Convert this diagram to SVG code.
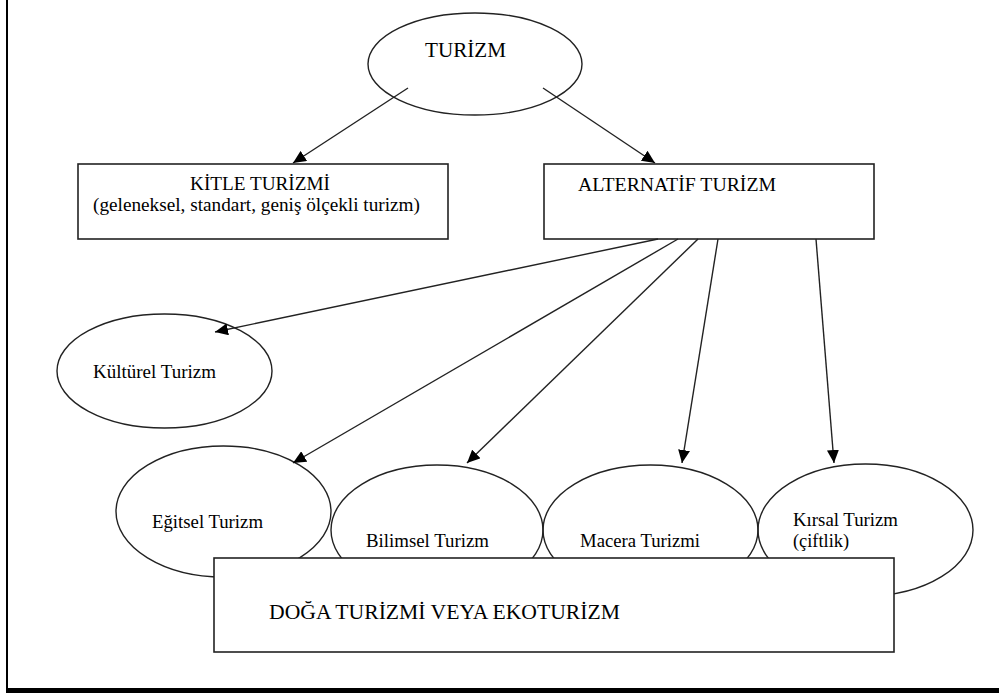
<svg xmlns="http://www.w3.org/2000/svg" width="999" height="693" viewBox="0 0 999 693">
<style>
.sh{fill:none;stroke:#222;stroke-width:1.4}
.bx{fill:#fff;stroke:#222;stroke-width:1.6}
.t{font-family:"Liberation Serif","Times New Roman",serif;fill:#000}
.c{stroke:#222;stroke-width:1.4;fill:none;marker-end:url(#ah)}
</style>
<defs>
<marker id="ah" markerUnits="userSpaceOnUse" markerWidth="14" markerHeight="12" refX="13" refY="6" orient="auto">
<path d="M0,0 L13,6 L0,12 Z" fill="#000"/>
</marker>
</defs>
<rect x="0" y="0" width="999" height="693" fill="#fff"/>
<line x1="7" y1="0" x2="7" y2="690" stroke="#000" stroke-width="2"/>
<rect x="6" y="688" width="993" height="5" fill="#000"/>

<g id="turizm">
<ellipse class="sh" cx="475" cy="64" rx="107" ry="51"/>
<text class="t" x="425" y="57" font-size="21" textLength="81" lengthAdjust="spacingAndGlyphs">TURİZM</text>
</g>
<g id="kitle">
<rect class="bx" x="78" y="164" width="370" height="75"/>
<text class="t" x="190" y="190" font-size="19.3" textLength="140" lengthAdjust="spacingAndGlyphs">KİTLE TURİZMİ</text>
<text class="t" x="93" y="211" font-size="19.2" textLength="327" lengthAdjust="spacingAndGlyphs">(geleneksel, standart, geniş ölçekli turizm)</text>
</g>
<g id="alternatif">
<rect class="bx" x="544" y="164" width="330" height="75"/>
<text class="t" x="578" y="191" font-size="19.3" textLength="198" lengthAdjust="spacingAndGlyphs">ALTERNATİF TURİZM</text>
</g>
<g id="kulturel">
<ellipse class="sh" cx="164.5" cy="371" rx="107.5" ry="57"/>
<text class="t" x="93" y="378" font-size="18.3" textLength="123" lengthAdjust="spacingAndGlyphs">Kültürel Turizm</text>
</g>
<g id="egitsel">
<ellipse class="sh" cx="223.5" cy="511.5" rx="107.5" ry="65.5"/>
<text class="t" x="152" y="528" font-size="18.6" textLength="111" lengthAdjust="spacingAndGlyphs">Eğitsel Turizm</text>
</g>
<g id="bilimsel">
<ellipse class="sh" cx="437" cy="530" rx="106" ry="65"/>
<text class="t" x="366" y="547" font-size="18.7" textLength="123" lengthAdjust="spacingAndGlyphs">Bilimsel Turizm</text>
</g>
<g id="macera">
<ellipse class="sh" cx="650.5" cy="530" rx="107.5" ry="65"/>
<text class="t" x="580" y="547" font-size="18.6" textLength="120" lengthAdjust="spacingAndGlyphs">Macera Turizmi</text>
</g>
<g id="kirsal">
<ellipse class="sh" cx="865.5" cy="530" rx="107.5" ry="66"/>
<text class="t" x="793" y="526" font-size="18.6" textLength="105" lengthAdjust="spacingAndGlyphs">Kırsal Turizm</text>
<text class="t" x="793" y="547" font-size="18.6" textLength="56" lengthAdjust="spacingAndGlyphs">(çiftlik)</text>
</g>

<g id="connectors">
<line class="c" x1="408" y1="88" x2="293" y2="163"/>
<line class="c" x1="543" y1="88" x2="655" y2="163"/>
<line class="c" x1="658" y1="239" x2="215" y2="332"/>
<line class="c" x1="678" y1="239" x2="293" y2="463"/>
<line class="c" x1="698" y1="239" x2="467" y2="463"/>
<line class="c" x1="718" y1="239" x2="682" y2="463"/>
<line class="c" x1="816" y1="239" x2="834" y2="463"/>
</g>

<g id="doga">
<rect class="bx" x="214" y="558" width="680" height="94"/>
<text class="t" x="269" y="619" font-size="21.3" textLength="351" lengthAdjust="spacingAndGlyphs">DOĞA TURİZMİ VEYA EKOTURİZM</text>
</g>
</svg>
